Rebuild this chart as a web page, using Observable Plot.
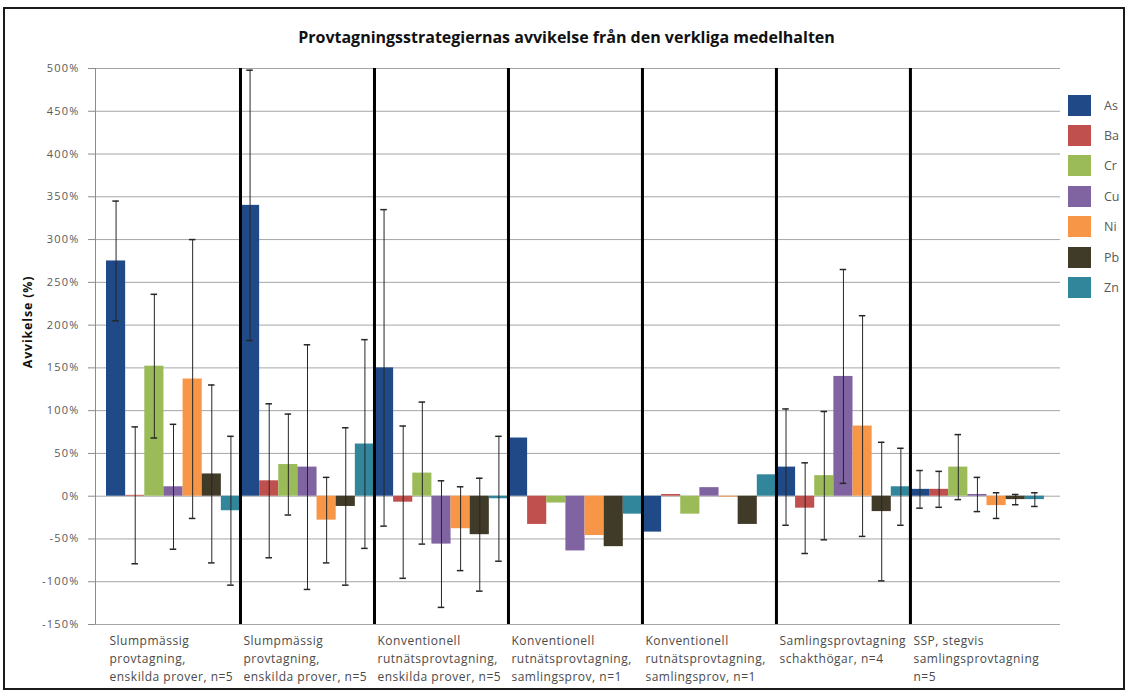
<!DOCTYPE html>
<html>
<head>
<meta charset="utf-8">
<script src="https://cdn.jsdelivr.net/npm/d3@7"></script>
<script src="https://cdn.jsdelivr.net/npm/@observablehq/plot@0.6"></script>
<style>
  html, body { margin: 0; padding: 0; background: #fff; }
  #chart { position: relative; width: 1133px; height: 695px; overflow: hidden; font-family: "Open Sans", Lato, sans-serif; }
  #frame { position: absolute; left: 3px; top: 7px; width: 1122px; height: 683px; border: 2px solid #1a1a1a; box-sizing: border-box; pointer-events: none; }
  #plot { position: absolute; left: 0; top: 0; }
  #title { position: absolute; left: 0; top: 26px; width: 1133px; text-align: center; font-weight: bold; font-size: 16px; color: #111; }
  #ylabel { position: absolute; left: 27px; top: 322px; transform: translate(-50%, -50%) rotate(-90deg); font-weight: bold; font-size: 12.5px; letter-spacing: 0.8px; color: #111; white-space: nowrap; }
  #legend { position: absolute; left: 1068px; top: 90px; font-size: 12.5px; color: #595959; }
  .item { display: flex; align-items: center; height: 30.4px; }
  .sw { width: 23px; height: 21px; margin-right: 13px; }
  #plot g[aria-label="y-axis tick label"] text { letter-spacing: 1.2px; }
  #plot g[aria-label="text"] text { letter-spacing: 0.5px; }
</style>
</head>
<body>
<div id="chart">
  <div id="plot"></div>
  <div id="title">Provtagningsstrategiernas avvikelse från den verkliga medelhalten</div>
  <div id="ylabel">Avvikelse (%)</div>
  <div id="legend"></div>
  <div id="frame"></div>
</div>
<script>
// Elements and their series colours
const elements = ["As", "Ba", "Cr", "Cu", "Ni", "Pb", "Zn"];
const colors = ["#1f4a87", "#c0504d", "#9bbb59", "#8064a2", "#f79646", "#403a28", "#31869b"];

// Sampling strategies (category labels, wrapped)
const strategies = [
  ["Slumpmässig", "provtagning,", "enskilda prover, n=5"],
  ["Slumpmässig", "provtagning,", "enskilda prover, n=5"],
  ["Konventionell", "rutnätsprovtagning,", "enskilda prover, n=5"],
  ["Konventionell", "rutnätsprovtagning,", "samlingsprov, n=1"],
  ["Konventionell", "rutnätsprovtagning,", "samlingsprov, n=1"],
  ["Samlingsprovtagning", "schakthögar, n=4"],
  ["SSP, stegvis", "samlingsprovtagning", "n=5"]
];

// Mean deviation from the true mean content (%), one value per strategy
const As = [275, 340, 150, 68, -42, 34, 8];
const Ba = [1, 18, -7, -33, 2, -14, 8];
const Cr = [152, 37, 27, -8, -21, 24, 34];
const Cu = [11, 34, -56, -64, 10, 140, 2];
const Ni = [137, -28, -38, -46, -1, 82, -11];
const Pb = [26, -12, -45, -59, -33, -18, -4];
const Zn = [-17, 61, -3, -21, 25, 11, -4];

// Error bar half-widths (%); single-sample strategies have none
const asErr = [70, 158, 185, null, null, 68, 22];
const baErr = [80, 90, 89, null, null, 53, 21];
const crErr = [84, 59, 83, null, null, 75, 38];
const cuErr = [73, 143, 74, null, null, 125, 20];
const niErr = [163, 50, 49, null, null, 129, 15];
const pbErr = [104, 92, 66, null, null, 81, 6];
const znErr = [87, 122, 73, null, null, 45, 8];

// Y axis ticks (%)
const yTicks = [-150, -100, -50, 0, 50, 100, 150, 200, 250, 300, 350, 400, 450, 500];

const series = [As, Ba, Cr, Cu, Ni, Pb, Zn];
const errors = [asErr, baErr, crErr, cuErr, niErr, pbErr, znErr];
const nEl = elements.length;

// One row per bar: position index = strategy * elements + element
const rows = [];
strategies.forEach((s, i) => {
  elements.forEach((el, j) => {
    rows.push({ idx: i * nEl + j, element: el, value: series[j][i], err: errors[j][i] });
  });
});
const errRows = rows.filter(d => d.err != null);
const separators = d3.range(1, strategies.length).map(i => i * nEl);
const capHalf = 0.17;

const chart = Plot.plot({
  width: 1133,
  height: 695,
  marginLeft: 95,
  marginRight: 73,
  marginTop: 68,
  marginBottom: 71,
  style: { fontFamily: "'Open Sans', Lato, sans-serif", background: "transparent" },
  x: { type: "linear", domain: [-0.575, rows.length + 0.84], axis: null },
  y: { domain: [-150, 500], axis: null },
  color: { domain: elements, range: colors },
  marks: [
    Plot.ruleY(yTicks, { stroke: "#a6a6a6", strokeWidth: 1 }),
    Plot.ruleX([-0.575], { y1: -150, y2: 500, stroke: "#8c8c8c" }),
    Plot.axisY(yTicks, {
      tickFormat: d => d + "%",
      tickSize: 7,
      tickPadding: 9,
      fontSize: 11,
      fill: "#595959",
      stroke: "#8c8c8c",
      label: null
    }),
    Plot.rect(rows, { x1: "idx", x2: d => d.idx + 1, y1: 0, y2: "value", fill: "element" }),
    Plot.ruleX(errRows, { x: d => d.idx + 0.5, y1: d => d.value - d.err, y2: d => d.value + d.err, stroke: "#262626", strokeWidth: 1 }),
    Plot.ruleY(errRows, { y: d => d.value + d.err, x1: d => d.idx + 0.5 - capHalf, x2: d => d.idx + 0.5 + capHalf, stroke: "#262626", strokeWidth: 1.5 }),
    Plot.ruleY(errRows, { y: d => d.value - d.err, x1: d => d.idx + 0.5 - capHalf, x2: d => d.idx + 0.5 + capHalf, stroke: "#262626", strokeWidth: 1.5 }),
    Plot.ruleX(separators, { y1: -150, y2: 500, stroke: "#000", strokeWidth: 3 }),
    Plot.text(strategies, {
      x: (d, i) => i * nEl,
      y: -150,
      text: d => d.join("\n"),
      textAnchor: "start",
      lineAnchor: "top",
      lineHeight: 1.5,
      dy: 8,
      dx: 3,
      fontSize: 12,
      fill: "#4a4a4a"
    })
  ]
});
document.getElementById("plot").appendChild(chart);

// Legend
const legend = document.getElementById("legend");
elements.forEach((el, j) => {
  const item = document.createElement("div");
  item.className = "item";
  const sw = document.createElement("div");
  sw.className = "sw";
  sw.style.background = colors[j];
  const lab = document.createElement("span");
  lab.textContent = el;
  item.appendChild(sw);
  item.appendChild(lab);
  legend.appendChild(item);
});
</script>
</body>
</html>
